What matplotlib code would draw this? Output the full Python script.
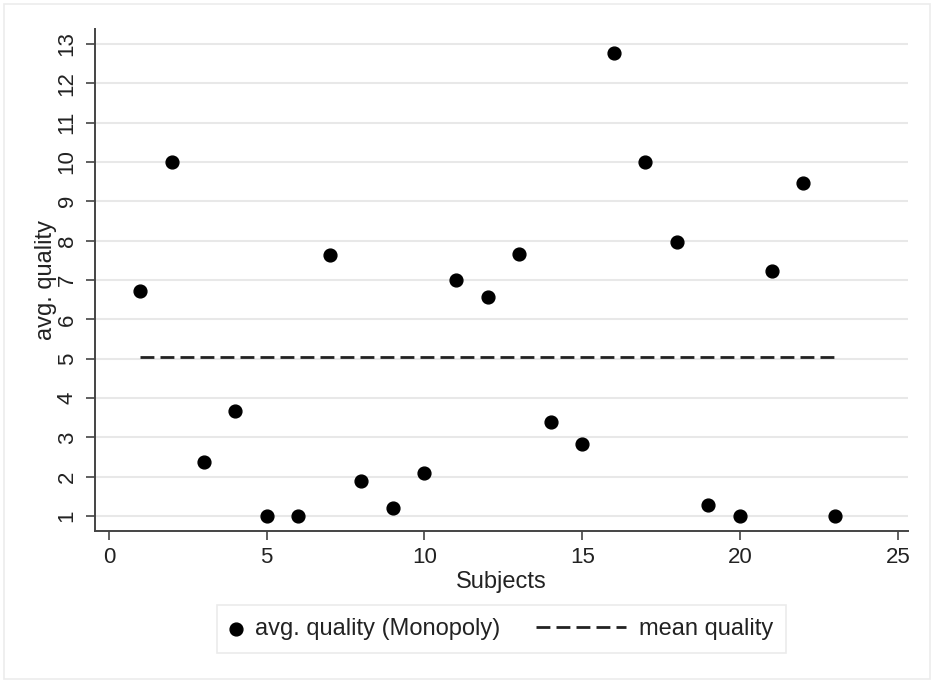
import matplotlib
matplotlib.use('Agg')
import matplotlib.pyplot as plt
from matplotlib.legend_handler import HandlerLine2D
import numpy as np

plt.rcParams['font.family'] = ['Liberation Sans', 'DejaVu Sans']

# one value per subject
subjects = list(range(1, 24))
avg_quality = [6.72, 10.0, 2.37, 3.67, 1.0, 1.0, 7.63, 1.88, 1.2, 2.1, 7.0, 6.57,
               7.65, 3.38, 2.83, 12.77, 10.0, 7.97, 1.27, 1.0, 7.23, 9.47, 1.0]
mean_quality = np.mean(avg_quality)

x_ticks = [0, 5, 10, 15, 20, 25]
y_ticks = list(range(1, 14))


class LongDashHandler(HandlerLine2D):
    # draw the dashed sample further to the left than the (short) handle box
    def get_xdata(self, legend, xdescent, ydescent, width, height, fontsize):
        xs = np.array([-xdescent - 3.3 * fontsize, -xdescent + width])
        return xs, xs


fig = plt.figure(figsize=(9.34, 6.82), dpi=100)
fig.patch.set_facecolor('white')
ax = fig.add_axes([0.1017, 0.2214, 0.8703, 0.7361])

axis_grey = '#444444'
for y in y_ticks:
    ax.axhline(y, color='#e8e8e8', lw=1.5, zorder=0)

ax.scatter(subjects, avg_quality, s=85, color='black', zorder=3,
           label='avg. quality (Monopoly)')
ax.plot([subjects[0], subjects[-1]], [mean_quality, mean_quality], color='#222222',
        lw=2.0, dashes=(5, 2.2), zorder=2, label='mean quality')

ax.set_xlim(-0.44, 25.32)
ax.set_ylim(0.62, 13.38)
ax.set_xticks(x_ticks)
ax.set_yticks(y_ticks)
ax.set_yticklabels([str(v) for v in y_ticks], rotation=90, va='center')
ax.tick_params(axis='both', colors=axis_grey, labelcolor='#222222', labelsize=16,
               length=6.5, width=1.2)
ax.tick_params(axis='x', pad=5)
ax.tick_params(axis='y', pad=6)

for side in ['top', 'right']:
    ax.spines[side].set_visible(False)
for side in ['left', 'bottom']:
    ax.spines[side].set_color(axis_grey)
    ax.spines[side].set_linewidth(1.4)

ax.set_xlabel('Subjects', fontsize=17, color='#222222', labelpad=2)
ax.set_ylabel('avg. quality', fontsize=17, color='#222222', labelpad=0)

handles, labels = ax.get_legend_handles_labels()
leg = fig.legend(handles, labels, loc='center', bbox_to_anchor=(0.537, 0.0777), ncol=2,
                 fontsize=17, frameon=True, fancybox=False, handlelength=0.5,
                 columnspacing=4.8, borderpad=0.55, handletextpad=0.55,
                 handler_map={handles[1]: LongDashHandler()})
leg.get_frame().set_edgecolor('#e6e6e6')
leg.get_frame().set_linewidth(1.2)
for t in leg.get_texts():
    t.set_color('#222222')

# faint outer frame
fig.add_artist(plt.Rectangle((0.004, 0.004), 0.992, 0.99, transform=fig.transFigure,
                             fill=False, edgecolor='#ececec', lw=1.2))

fig.savefig('out.png', dpi=100)
